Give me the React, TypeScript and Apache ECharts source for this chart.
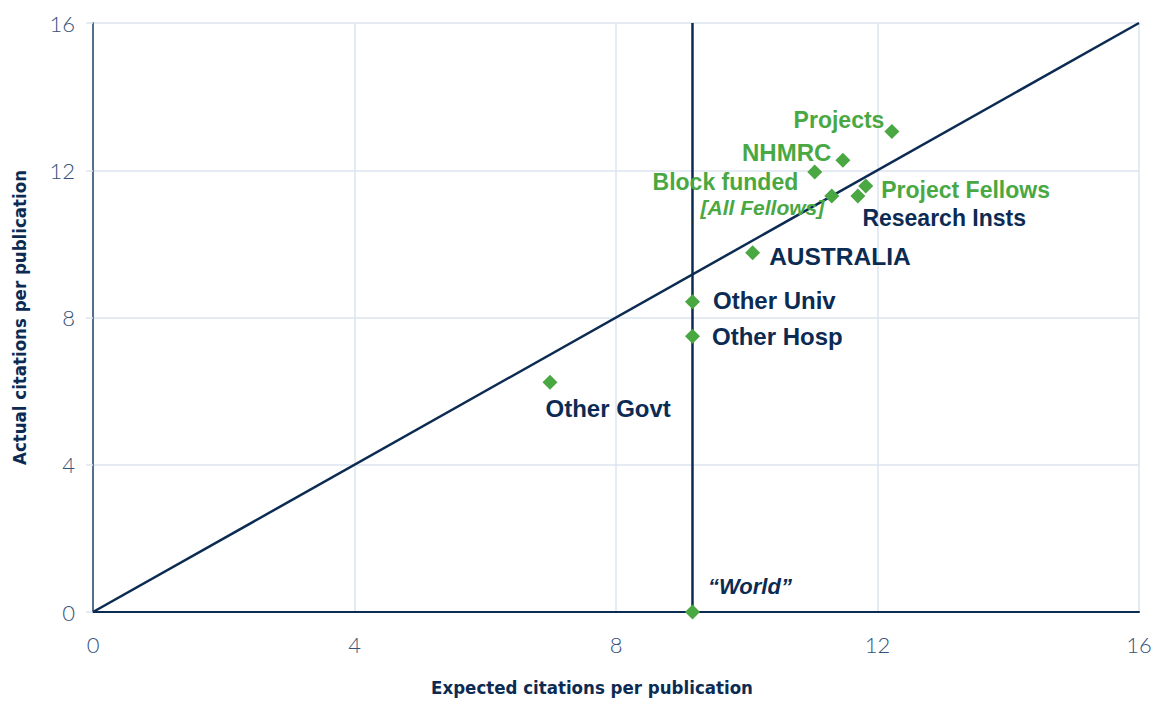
import React, { useEffect, useRef } from "react";
import * as echarts from "echarts";

// ---- Data ----
const names = [
  "Projects",
  "NHMRC",
  "Block funded",
  "[All Fellows]",
  "Project Fellows",
  "Research Insts",
  "AUSTRALIA",
  "Other Univ",
  "Other Hosp",
  "Other Govt",
  "\u201cWorld\u201d",
];
const expected = [12.22, 11.47, 11.04, 11.3, 11.82, 11.7, 10.09, 9.17, 9.17, 6.99, 9.17];
const actual = [13.05, 12.27, 11.95, 11.3, 11.57, 11.3, 9.76, 8.43, 7.49, 6.24, 0];
const worldExpected = 9.17;
const parityLine = [0, 16];
const axisTicks = [0, 4, 8, 12, 16];

// ---- Styles ----
const GREEN = "#4aa843";
const NAVY = "#0c2b53";
const TICK = "#34527a";
const GRID = "#dde4ee";

type LS = { pos: string; off: [number, number]; color: string; size: number; italic?: boolean };
const labelStyles: Record<string, LS> = {
  "Projects": { pos: "left", off: [5, -12], color: GREEN, size: 23 },
  "NHMRC": { pos: "left", off: [1, -8], color: GREEN, size: 24 },
  "Block funded": { pos: "left", off: [-4, 10], color: GREEN, size: 23 },
  "[All Fellows]": { pos: "left", off: [5, 11], color: GREEN, size: 21, italic: true },
  "Project Fellows": { pos: "right", off: [3, 4], color: GREEN, size: 23 },
  "Research Insts": { pos: "right", off: [-8, 22], color: NAVY, size: 23 },
  "AUSTRALIA": { pos: "right", off: [4, 4], color: NAVY, size: 24.5 },
  "Other Univ": { pos: "right", off: [8, -1], color: NAVY, size: 24 },
  "Other Hosp": { pos: "right", off: [7, 0], color: NAVY, size: 24 },
  "Other Govt": { pos: "right", off: [-17, 26], color: NAVY, size: 24 },
  "\u201cWorld\u201d": { pos: "right", off: [3, -26], color: NAVY, size: 22, italic: true },
};

export default function App() {
  const ref = useRef<HTMLDivElement>(null);
  useEffect(() => {
    if (!ref.current) return;
    const chart = echarts.init(ref.current, undefined, { renderer: "svg" });
    const pts = names.map((n, i) => {
      const s = labelStyles[n];
      return {
        name: n,
        value: [expected[i], actual[i]],
        label: {
          show: true,
          formatter: n,
          position: s.pos,
          color: s.color,
          fontStyle: s.italic ? "italic" : "normal",
          fontWeight: "bold",
          fontFamily: "'Liberation Sans', Arial, sans-serif",
          fontSize: s.size,
        },
      };
    });
    chart.setOption({
      animation: false,
      backgroundColor: "#ffffff",
      grid: { left: 93, right: 18, top: 23, bottom: 86 },
      xAxis: {
        type: "value",
        min: axisTicks[0],
        max: axisTicks[axisTicks.length - 1],
        interval: 4,
        name: "Expected citations per publication",
        nameLocation: "middle",
        nameGap: 66,
        nameTextStyle: {
          color: NAVY,
          fontFamily: "'DejaVu Sans Condensed', 'DejaVu Sans', sans-serif",
          fontWeight: "bold",
          fontSize: 18.5,
          padding: [0, 48, 0, 0],
        },
        axisLine: { show: true, lineStyle: { color: NAVY, width: 2 } },
        axisTick: { show: false },
        axisLabel: {
          color: TICK,
          fontFamily: "Lato, 'Open Sans', sans-serif",
          fontWeight: 300,
          fontSize: 22,
          margin: 21,
        },
        splitLine: { show: true, lineStyle: { color: GRID, width: 1.5 } },
      },
      yAxis: {
        type: "value",
        min: axisTicks[0],
        max: axisTicks[axisTicks.length - 1],
        interval: 4,
        name: "Actual citations per publication",
        nameLocation: "middle",
        nameGap: 64,
        nameTextStyle: {
          color: NAVY,
          fontFamily: "'DejaVu Sans Condensed', 'DejaVu Sans', sans-serif",
          fontWeight: "bold",
          fontSize: 18.5,
        },
        axisLine: { show: true, onZero: false, lineStyle: { color: "#536f8c", width: 2 } },
        axisTick: { show: true, length: 7, lineStyle: { color: GRID, width: 1.5 } },
        axisLabel: {
          color: TICK,
          fontFamily: "Lato, 'Open Sans', sans-serif",
          fontWeight: 300,
          fontSize: 22,
          margin: 18,
        },
        splitLine: { show: true, lineStyle: { color: GRID, width: 1.5 } },
      },
      series: [
        {
          type: "line",
          data: [
            [parityLine[0], parityLine[0]],
            [parityLine[1], parityLine[1]],
          ],
          symbol: "none",
          lineStyle: { color: NAVY, width: 2.5 },
          z: 2,
          silent: true,
        },
        {
          type: "line",
          data: [
            [worldExpected, parityLine[0]],
            [worldExpected, parityLine[1]],
          ],
          symbol: "none",
          lineStyle: { color: NAVY, width: 2.5 },
          z: 2,
          silent: true,
        },
        {
          type: "scatter",
          symbol: "diamond",
          symbolSize: 15,
          itemStyle: { color: GREEN, opacity: 1 },
          data: pts,
          z: 5,
          clip: false,
          labelLayout: (p: any) => {
            const s = labelStyles[names[p.dataIndex]];
            return { dx: s.off[0], dy: s.off[1], hideOverlap: false };
          },
        },
      ],
    });
    return () => chart.dispose();
  }, []);
  return (
    <div
      ref={ref}
      style={{ position: "absolute", left: 0, top: 0, width: 1157, height: 702, background: "#fff" }}
    />
  );
}
